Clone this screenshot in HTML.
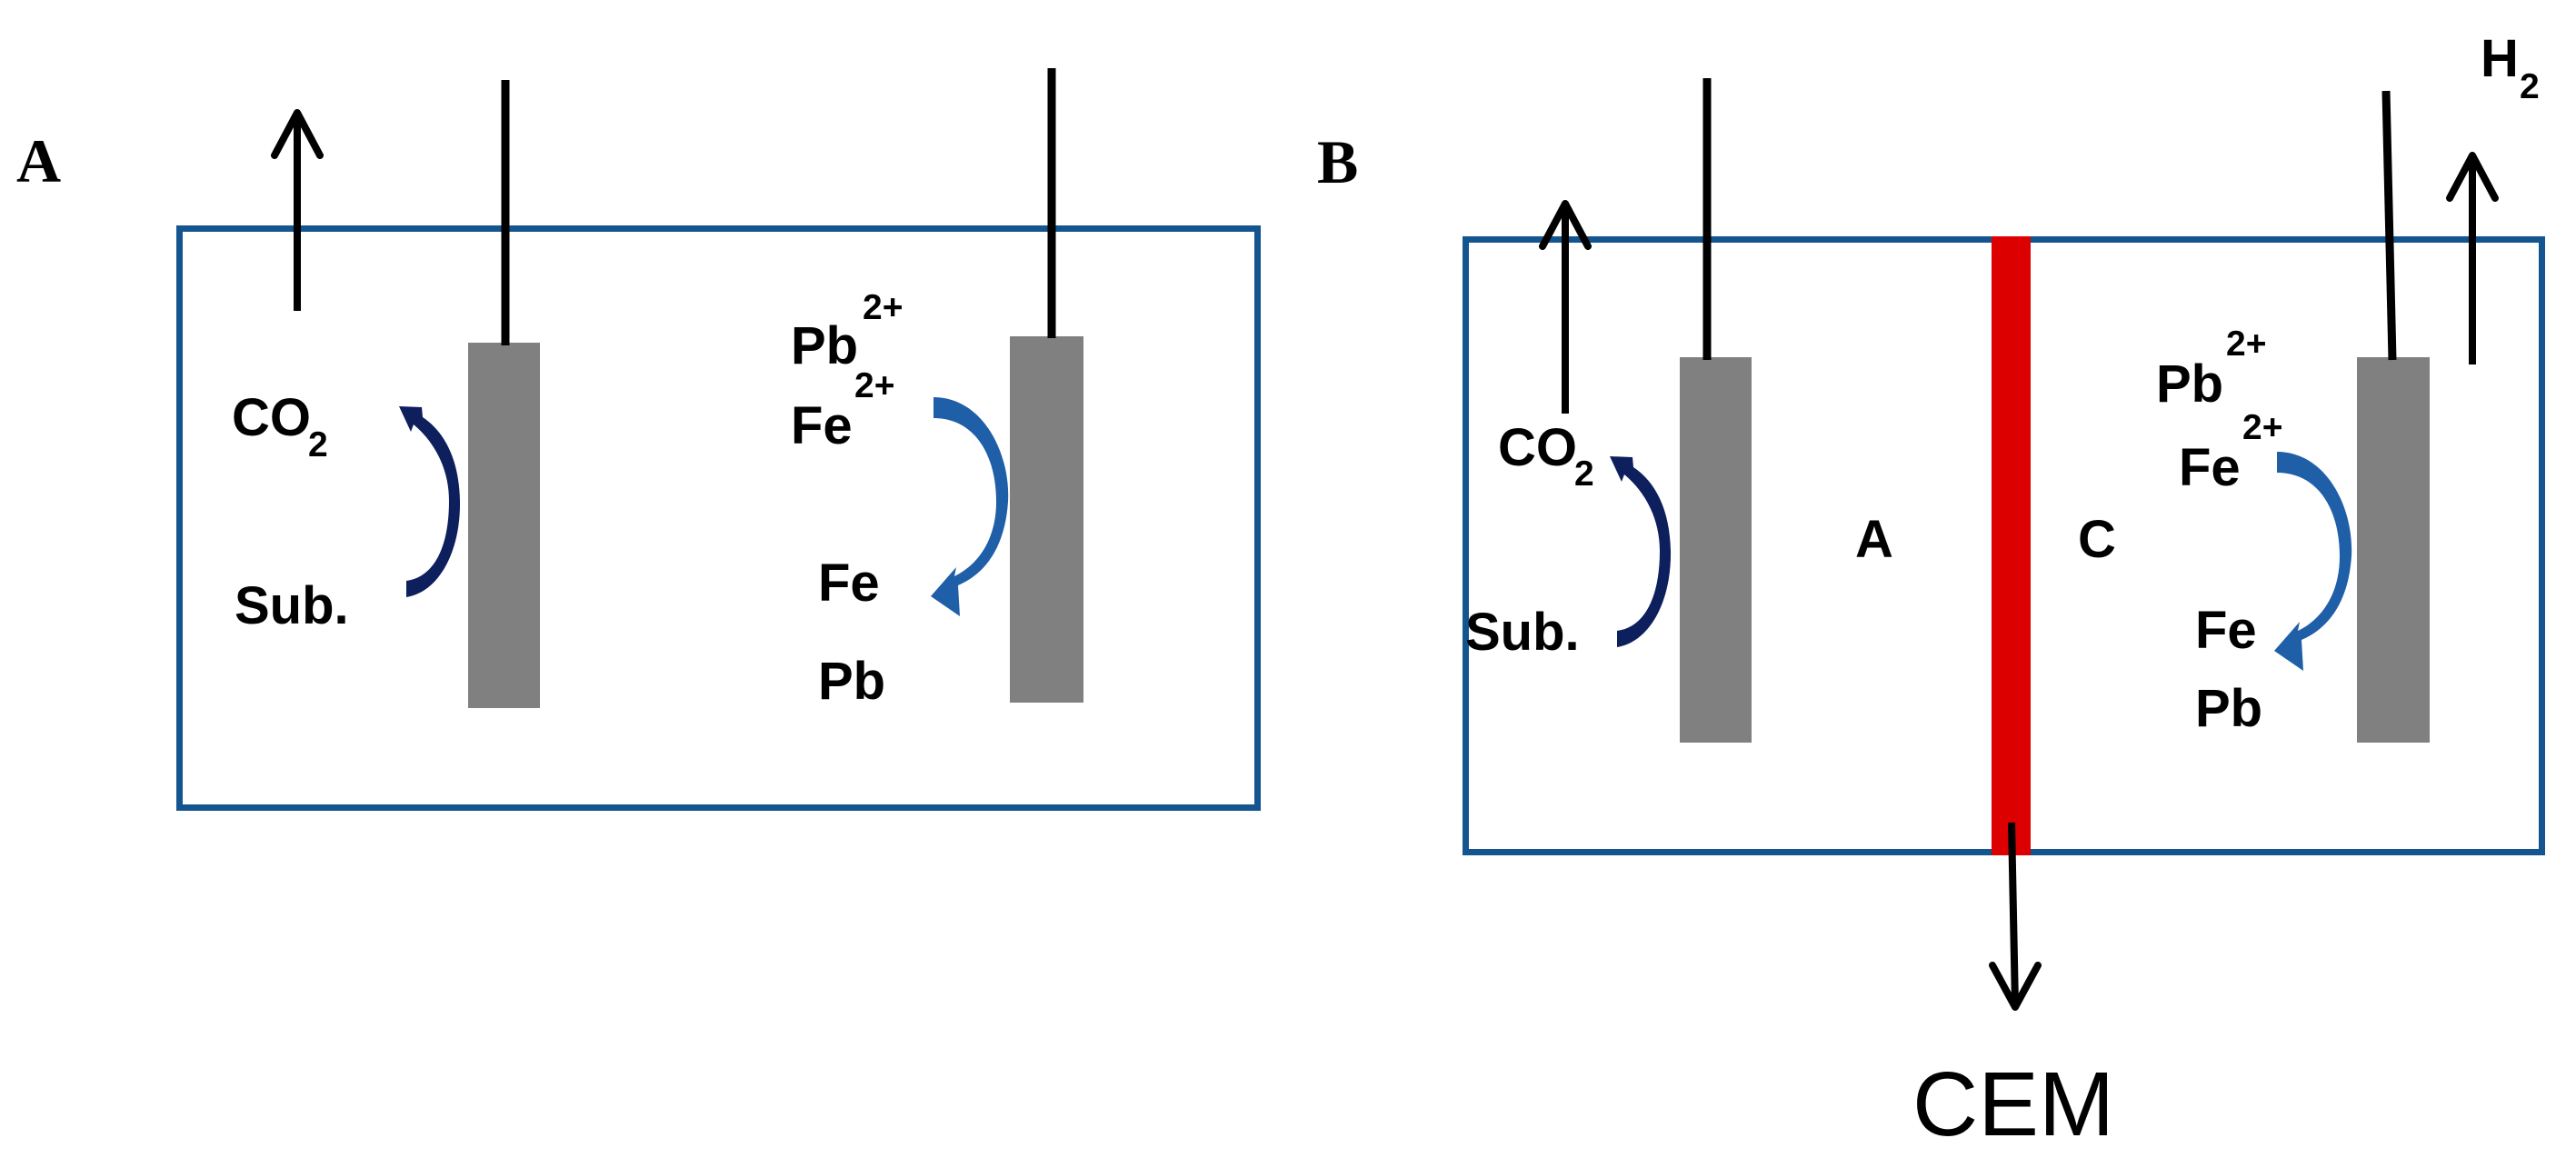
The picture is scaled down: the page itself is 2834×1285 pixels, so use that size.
<!DOCTYPE html>
<html><head><meta charset="utf-8"><style>
html,body{margin:0;padding:0;background:#fff;}
svg{display:block;}
text{font-family:"Liberation Sans",sans-serif;font-weight:bold;fill:#000;}
</style></head><body>
<svg width="2834" height="1285" viewBox="0 0 2834 1285" xmlns="http://www.w3.org/2000/svg">
<defs>
<path id="blueArr" d="M2505,497 C2560,497 2590,560 2587,612 C2584,658 2565,690 2532,704 L2534,738 L2502,716 L2530,684 L2528,694 C2557,680 2574,650 2574,612 C2574,560 2550,520 2505,520 Z" fill="#1f5fa8"/>
<path id="navyArr" d="M1779,712 C1816,706 1839,660 1838,606 C1837,560 1821,530 1797,514 L1796,503 L1771,502 L1784,530 L1787,522 C1811,542 1826,572 1826,606 C1826,656 1810,690 1779,694 Z" fill="#0d1f5c"/>
</defs>

<!-- Panel A -->
<text x="18" y="200" style="font-family:'Liberation Serif',serif;font-size:68px">A</text>
<rect x="197.5" y="251.5" width="1186" height="637" fill="none" stroke="#14558f" stroke-width="7"/>
<line x1="327" y1="342" x2="327" y2="126" stroke="#000" stroke-width="8"/>
<polyline points="302,171 327,124 352,171" fill="none" stroke="#000" stroke-width="8" stroke-linecap="round" stroke-linejoin="round"/>
<rect x="515" y="377" width="79" height="402" fill="#808080"/>
<line x1="556" y1="88" x2="556" y2="380" stroke="#000" stroke-width="9"/>
<rect x="1111" y="370" width="81" height="403" fill="#808080"/>
<line x1="1157" y1="75" x2="1157" y2="372" stroke="#000" stroke-width="9"/>
<text x="255" y="479" font-size="58">CO</text><text x="339" y="502" font-size="39">2</text>
<text x="258" y="686" font-size="58">Sub.</text>
<text x="870" y="400" font-size="58">Pb</text><text x="949" y="351" font-size="39">2+</text>
<text x="870" y="488" font-size="58">Fe</text><text x="940" y="437" font-size="39">2+</text>
<text x="900" y="661" font-size="58">Fe</text>
<text x="900" y="769" font-size="58">Pb</text>
<use href="#navyArr" transform="translate(-1332,-55)"/>
<use href="#blueArr" transform="translate(-1478,-60)"/>

<!-- Panel B -->
<text x="1449" y="201" style="font-family:'Liberation Serif',serif;font-size:68px">B</text>
<rect x="1612.5" y="263.5" width="1184" height="674" fill="none" stroke="#14558f" stroke-width="7"/>
<rect x="2191" y="260" width="43" height="681" fill="#dd0000"/>
<line x1="1722" y1="455" x2="1722" y2="226" stroke="#000" stroke-width="8"/>
<polyline points="1697,271 1722,224 1747,271" fill="none" stroke="#000" stroke-width="8" stroke-linecap="round" stroke-linejoin="round"/>
<rect x="1848" y="393" width="79" height="424" fill="#808080"/>
<line x1="1878" y1="86" x2="1878" y2="396" stroke="#000" stroke-width="9"/>
<rect x="2593" y="393" width="80" height="424" fill="#808080"/>
<line x1="2625" y1="100" x2="2632" y2="396" stroke="#000" stroke-width="9"/>
<line x1="2720" y1="401" x2="2720" y2="173" stroke="#000" stroke-width="8"/>
<polyline points="2695,218 2720,171 2745,218" fill="none" stroke="#000" stroke-width="8" stroke-linecap="round" stroke-linejoin="round"/>
<text x="2729" y="84" font-size="58">H</text><text x="2772" y="108" font-size="39">2</text>
<line x1="2213" y1="905" x2="2217" y2="1106" stroke="#000" stroke-width="8"/>
<polyline points="2192,1062 2217,1108 2242,1062" fill="none" stroke="#000" stroke-width="8" stroke-linecap="round" stroke-linejoin="round"/>
<text x="2104" y="1249" style="font-weight:normal;font-size:100px">CEM</text>
<text x="1648" y="512" font-size="58">CO</text><text x="1732" y="534" font-size="39">2</text>
<text x="1612" y="715" font-size="58">Sub.</text>
<text x="2041" y="613" font-size="58">A</text>
<text x="2286" y="613" font-size="58">C</text>
<text x="2372" y="442" font-size="58">Pb</text><text x="2449" y="391" font-size="39">2+</text>
<text x="2397" y="534" font-size="58">Fe</text><text x="2467" y="483" font-size="39">2+</text>
<text x="2415" y="713" font-size="58">Fe</text>
<text x="2415" y="799" font-size="58">Pb</text>
<use href="#navyArr"/>
<use href="#blueArr"/>
</svg>
</body></html>
